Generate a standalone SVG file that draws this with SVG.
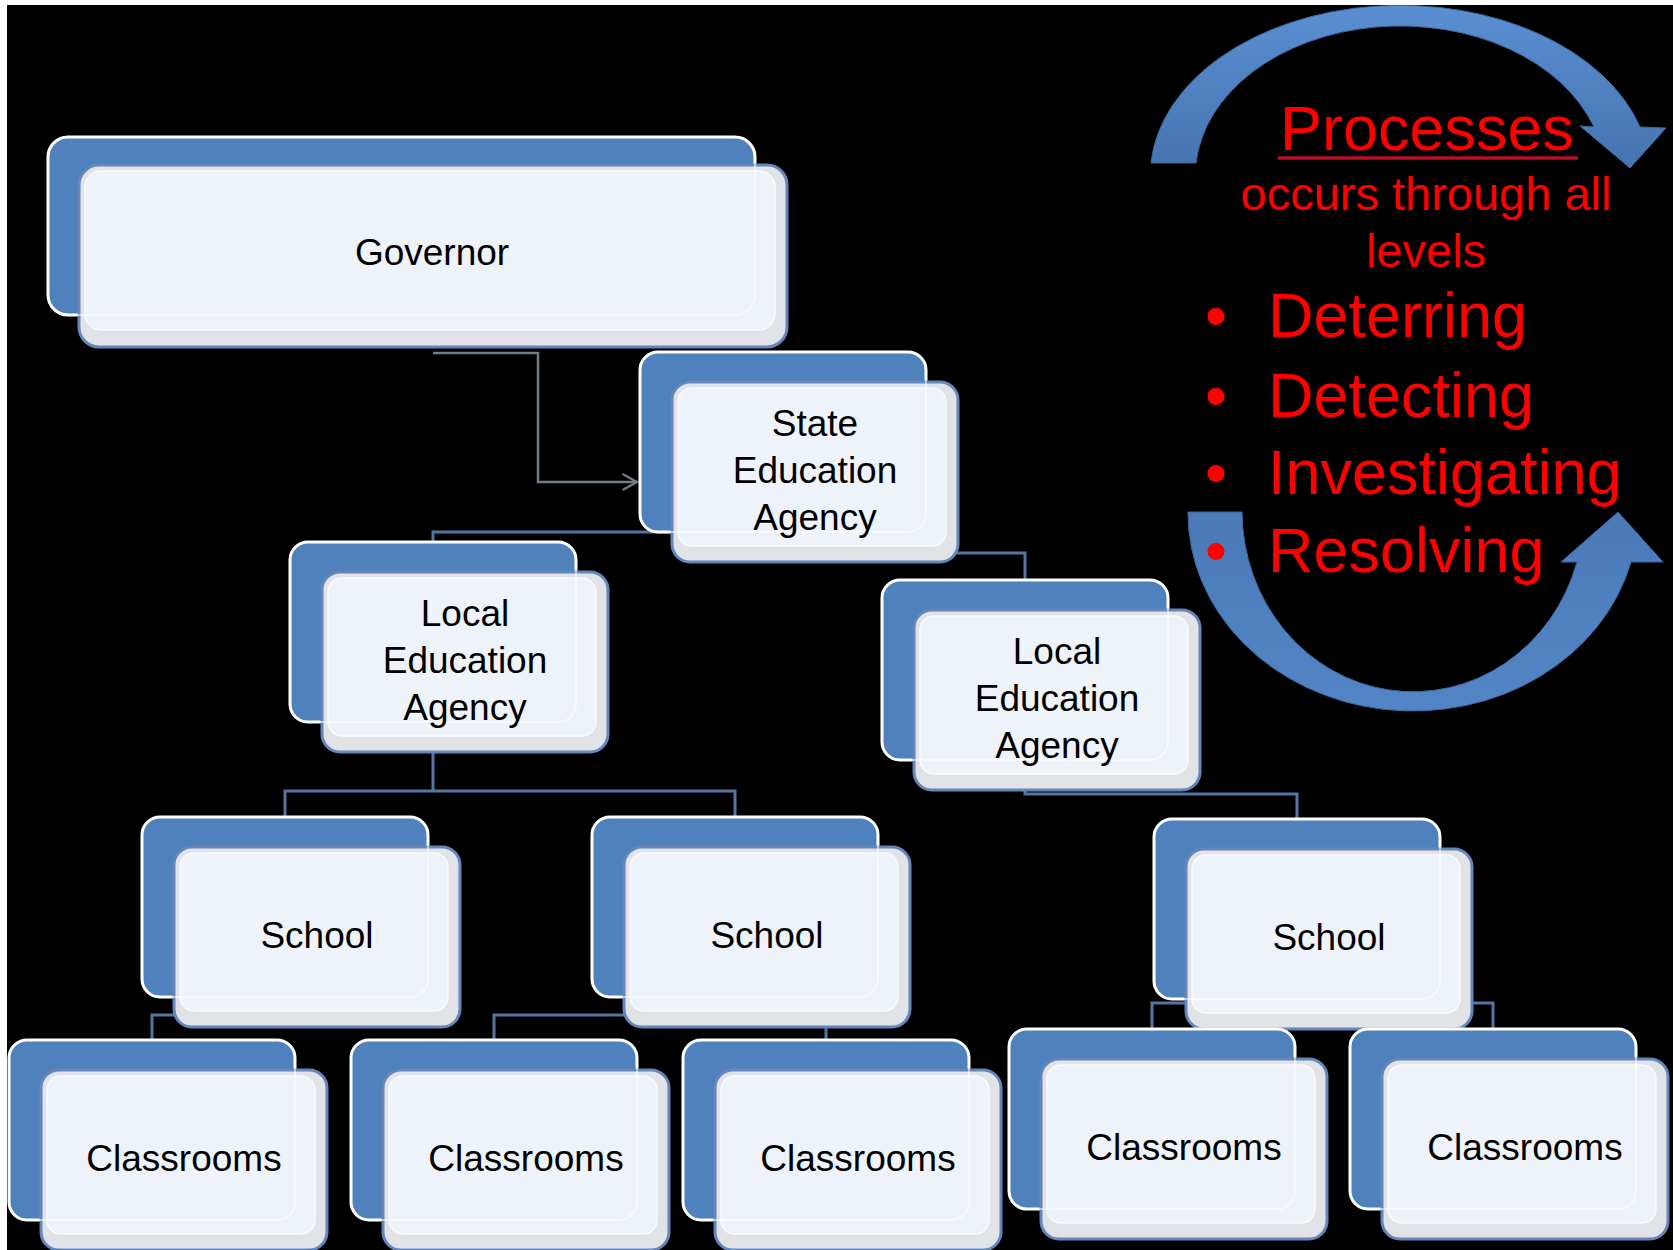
<svg xmlns="http://www.w3.org/2000/svg" xmlns:xlink="http://www.w3.org/1999/xlink" width="1673" height="1250" viewBox="0 0 1673 1250">
<style>
.back{fill:#4F81BD;stroke:#FFFFFF;stroke-width:3}
.front{fill:#E2E3E6;stroke:#6486BA;stroke-width:3}
.inner{fill:#EEF2F9;stroke:#F8FAFD;stroke-width:1.5}
.ghost{fill:none;stroke:#FFFFFF;stroke-opacity:0.55;stroke-width:2}
.lbl{font-family:"Liberation Sans",Arial,sans-serif;font-size:37px;fill:#000000;text-anchor:middle}
.conn{fill:none;stroke:#55749F;stroke-width:3}
.red{font-family:"Liberation Sans",Arial,sans-serif;fill:#FF0000}
</style>
<defs>
<g id="box">
<rect class="back" x="0" y="0" width="286" height="180" rx="18"/>
<rect class="front" x="32" y="30" width="286" height="180" rx="18"/>
<rect class="inner" x="38" y="36" width="268" height="158" rx="14"/>
<rect class="ghost" x="0" y="0" width="286" height="180" rx="18"/>
</g>
<linearGradient id="arcTop" x1="0" y1="0" x2="0" y2="1">
<stop offset="0" stop-color="#5A8FD2"/>
<stop offset="1" stop-color="#4674B0"/>
</linearGradient>
<linearGradient id="arcBot" x1="0" y1="0" x2="0" y2="1">
<stop offset="0" stop-color="#4B7AB8"/>
<stop offset="1" stop-color="#5285C6"/>
</linearGradient>
<marker id="chev" viewBox="0 0 20 20" refX="18" refY="10" markerWidth="18" markerHeight="18" markerUnits="userSpaceOnUse" orient="auto" overflow="visible">
<path d="M 2 1 L 18 10 L 2 19" fill="none" stroke="#6F7C8A" stroke-width="2.6"/>
</marker>
</defs>

<rect x="0" y="0" width="1673" height="1250" fill="#FFFFFF"/>
<rect x="7" y="5" width="1666" height="1245" fill="#000000"/>

<g id="cycle">
<path d="M 1151 163 A 250 170 0 0 1 1640 127 L 1666 128 L 1630 168 L 1580 126 L 1594 127 A 205 150 0 0 0 1196 163 Z" fill="url(#arcTop)" stroke="#3D679E" stroke-width="1"/>
<path d="M 1188 512 A 225 198 0 0 0 1631 562 L 1663 562 L 1618 512 L 1561 562 L 1577 562 A 171 181 0 0 1 1242 512 Z" fill="url(#arcBot)" stroke="#3D679E" stroke-width="1"/>
</g>

<g id="connectors">
<path d="M 433 353 H 538 V 482 H 637" fill="none" stroke="#6F7C8A" stroke-width="2.5" marker-end="url(#chev)"/>
<path class="conn" d="M 433 542 V 532 H 783"/>
<path class="conn" d="M 783 553 H 1025 V 580"/>
<path class="conn" d="M 433 722 V 791 H 285 V 817 M 433 791 H 735 V 817"/>
<path class="conn" d="M 1025 760 V 794 H 1297 V 819"/>
<path class="conn" d="M 285 998 V 1015 H 152 V 1040"/>
<path class="conn" d="M 735 998 V 1015 H 494 V 1040 M 735 1015 H 826 V 1040"/>
<path class="conn" d="M 1297 1000 V 1003 H 1152 V 1029 M 1297 1003 H 1493 V 1029"/>
</g>

<g id="governor">
<rect class="back" x="48" y="137" width="707" height="178" rx="20"/>
<rect class="front" x="79" y="165" width="708" height="182" rx="20"/>
<rect class="inner" x="85" y="171" width="690" height="159" rx="16"/>
<rect class="ghost" x="48" y="137" width="707" height="178" rx="20"/>
<text class="lbl" x="432" y="265">Governor</text>
</g>

<g id="sea">
<use xlink:href="#box" href="#box" x="640" y="352"/>
<text class="lbl" x="815" y="436">State</text>
<text class="lbl" x="815" y="483">Education</text>
<text class="lbl" x="815" y="530">Agency</text>
</g>

<g id="lea-left">
<use xlink:href="#box" href="#box" x="290" y="542"/>
<text class="lbl" x="465" y="626">Local</text>
<text class="lbl" x="465" y="673">Education</text>
<text class="lbl" x="465" y="720">Agency</text>
</g>

<g id="lea-right">
<use xlink:href="#box" href="#box" x="882" y="580"/>
<text class="lbl" x="1057" y="664">Local</text>
<text class="lbl" x="1057" y="711">Education</text>
<text class="lbl" x="1057" y="758">Agency</text>
</g>

<g id="school-1">
<use xlink:href="#box" href="#box" x="142" y="817"/>
<text class="lbl" x="317" y="948">School</text>
</g>
<g id="school-2">
<use xlink:href="#box" href="#box" x="592" y="817"/>
<text class="lbl" x="767" y="948">School</text>
</g>
<g id="school-3">
<use xlink:href="#box" href="#box" x="1154" y="819"/>
<text class="lbl" x="1329" y="950">School</text>
</g>

<g id="classrooms-1">
<use xlink:href="#box" href="#box" x="9" y="1040"/>
<text class="lbl" x="184" y="1171">Classrooms</text>
</g>
<g id="classrooms-2">
<use xlink:href="#box" href="#box" x="351" y="1040"/>
<text class="lbl" x="526" y="1171">Classrooms</text>
</g>
<g id="classrooms-3">
<use xlink:href="#box" href="#box" x="683" y="1040"/>
<text class="lbl" x="858" y="1171">Classrooms</text>
</g>
<g id="classrooms-4">
<use xlink:href="#box" href="#box" x="1009" y="1029"/>
<text class="lbl" x="1184" y="1160">Classrooms</text>
</g>
<g id="classrooms-5">
<use xlink:href="#box" href="#box" x="1350" y="1029"/>
<text class="lbl" x="1525" y="1160">Classrooms</text>
</g>

<g id="processes-text">
<text class="red" x="1427" y="150" font-size="63" text-anchor="middle">Processes</text>
<line x1="1278" y1="158" x2="1578" y2="158" stroke="#B80F28" stroke-width="3.5"/>
<text class="red" x="1426" y="210" font-size="47" text-anchor="middle">occurs through all</text>
<text class="red" x="1426" y="267" font-size="47" text-anchor="middle">levels</text>
<text class="red" x="1216" y="337" font-size="63" text-anchor="middle">•</text>
<text class="red" x="1268" y="337" font-size="63">Deterring</text>
<text class="red" x="1216" y="417" font-size="63" text-anchor="middle">•</text>
<text class="red" x="1268" y="417" font-size="63">Detecting</text>
<text class="red" x="1216" y="494" font-size="63" text-anchor="middle">•</text>
<text class="red" x="1268" y="494" font-size="63">Investigating</text>
<text class="red" x="1216" y="572" font-size="63" text-anchor="middle">•</text>
<text class="red" x="1268" y="572" font-size="63">Resolving</text>
</g>
</svg>
